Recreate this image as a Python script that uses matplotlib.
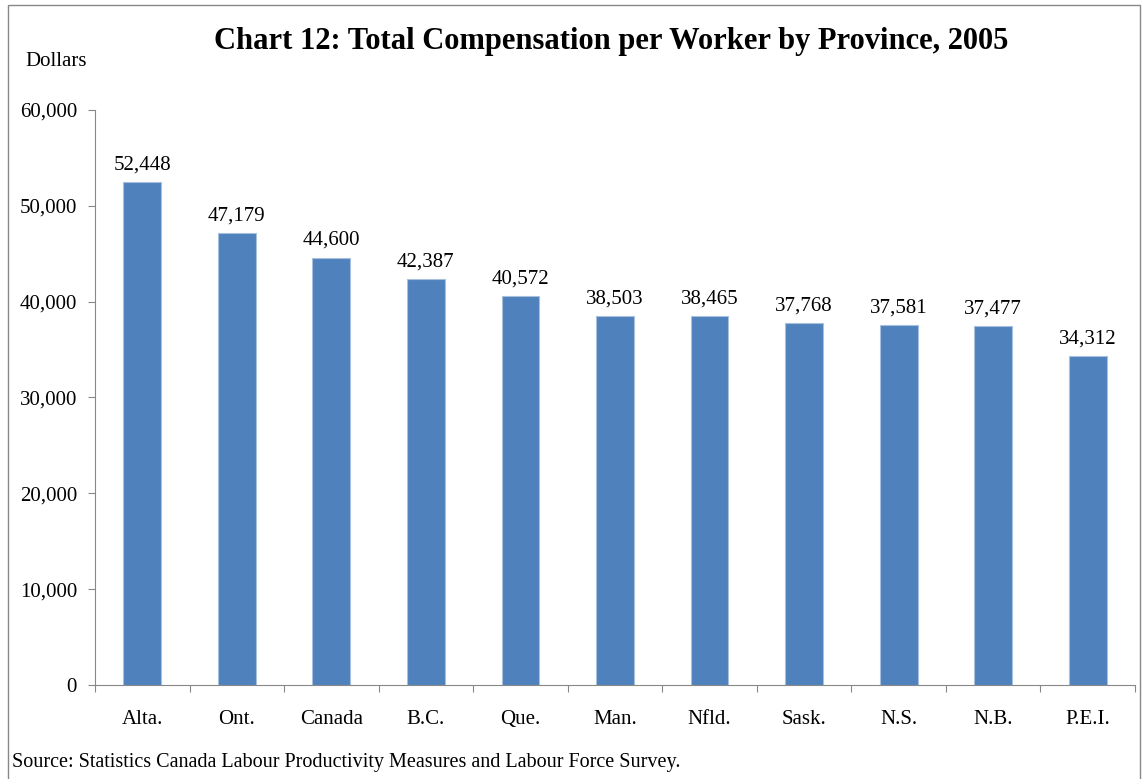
import matplotlib
matplotlib.use("Agg")
import matplotlib.pyplot as plt
from matplotlib.patches import Rectangle
from matplotlib.ticker import FuncFormatter

provinces = ["Alta.", "Ont.", "Canada", "B.C.", "Que.", "Man.", "Nfld.", "Sask.", "N.S.", "N.B.", "P.E.I."]
compensation = [52448, 47179, 44600, 42387, 40572, 38503, 38465, 37768, 37581, 37477, 34312]

plt.rcParams["font.family"] = ["Liberation Serif", "DejaVu Serif"]

fig = plt.figure(figsize=(11.43, 7.79), dpi=100)
ax = fig.add_axes([95/1143, 1 - 685/779, (1135 - 95)/1143, (685 - 110)/779])

x = range(len(provinces))
bars = ax.bar(x, compensation, width=0.4, color="#4F81BD", edgecolor="#A7C0DE", linewidth=0.8)

for xi, v in zip(x, compensation):
    ax.text(xi, v + 800, f"{v:,}", ha="center", va="bottom", fontsize=15)

ax.set_xlim(-0.5, len(provinces) - 0.5)
ax.set_ylim(0, 60000)
ax.set_yticks(range(0, 60001, 10000))
ax.yaxis.set_major_formatter(FuncFormatter(lambda v, p: f"{int(v):,}"))
ax.set_xticks([i - 0.5 for i in range(len(provinces) + 1)])
ax.set_xticks(list(x), minor=True)
ax.set_xticklabels([])
ax.set_xticklabels(provinces, minor=True)
ax.tick_params(axis="x", which="minor", length=0, pad=18, labelsize=15)
ax.tick_params(axis="x", which="major", length=5, direction="out", color="#888888")
ax.tick_params(axis="y", length=5, color="#888888", labelsize=15, pad=8)

for s in ["top", "right"]:
    ax.spines[s].set_visible(False)
for s in ["left", "bottom"]:
    ax.spines[s].set_color("#888888")

fig.text(611/1143, 1 - 42/779, "Chart 12: Total Compensation per Worker by Province, 2005",
         ha="center", va="center", fontsize=22, fontweight="bold")
fig.text(25/1143, 1 - 62/779, "Dollars", ha="left", va="center", fontsize=15)
fig.text(12/1143, 1 - 762/779, "Source: Statistics Canada Labour Productivity Measures and Labour Force Survey.",
         ha="left", va="center", fontsize=14.5)

fig.patches.append(Rectangle((8/1143, -0.01), (1140 - 8)/1143, 1 - 5/779 + 0.01,
                             transform=fig.transFigure, fill=False, edgecolor="#888888", linewidth=1))

fig.savefig("out.png", dpi=100)
